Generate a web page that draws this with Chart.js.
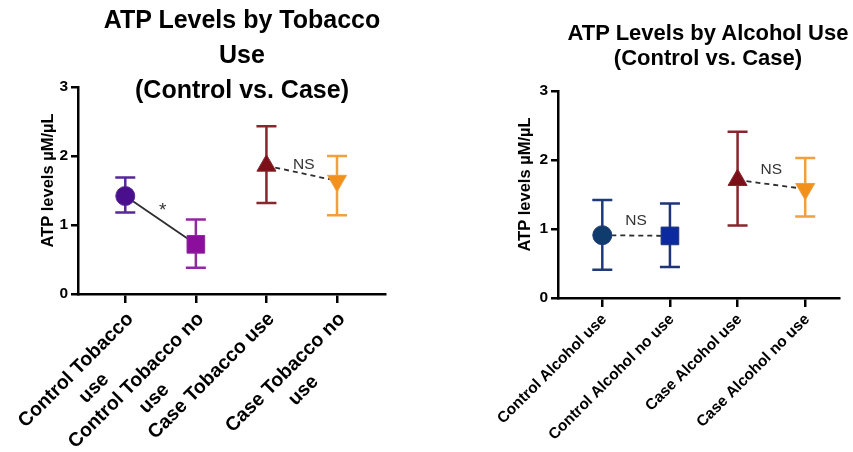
<!DOCTYPE html>
<html>
<head>
<meta charset="utf-8">
<script src="https://cdn.jsdelivr.net/npm/chart.js@4.4.0/dist/chart.umd.min.js"></script>
<style>
  body { margin: 0; background: #fff; font-family: "Liberation Sans", Arial, sans-serif; }
  #wrap { position: relative; width: 853px; height: 452px; overflow: hidden; }
  canvas { position: absolute; top: 0; }
  .title { position: absolute; width: 400px; text-align: center; font-weight: bold; color: #000; white-space: nowrap; }
  #t1 { left: 42px; top: 2px; font-size: 25px; line-height: 35px; }
  #t2 { left: 508px; top: 20px; font-size: 22px; line-height: 25px; }
</style>
</head>
<body>
<div id="wrap">
  <canvas id="tobaccoChart" width="430" height="452" style="left:0"></canvas>
  <canvas id="alcoholChart" width="423" height="452" style="left:430px"></canvas>
  <div class="title" id="t1">ATP Levels by Tobacco<br>Use<br>(Control vs. Case)</div>
  <div class="title" id="t2">ATP Levels by Alcohol Use<br>(Control vs. Case)</div>
</div>
<script>
// Data
const tobaccoLabels = [['Control Tobacco', 'use'], ['Control Tobacco no', 'use'], ['Case Tobacco use'], ['Case Tobacco no', 'use']];
const tobaccoMean = [1.42, 0.72, 1.86, 1.64];
const tobaccoUpper = [1.69, 1.08, 2.43, 2.00];
const tobaccoLower = [1.18, 0.38, 1.32, 1.14];
const tobaccoSig = ['*', 'NS'];

const alcoholLabels = ['Control Alcohol use', 'Control Alcohol no use', 'Case Alcohol use', 'Case Alcohol no use'];
const alcoholMean = [0.91, 0.90, 1.71, 1.58];
const alcoholUpper = [1.42, 1.37, 2.41, 2.03];
const alcoholLower = [0.41, 0.45, 1.05, 1.18];
const alcoholSig = ['NS', 'NS'];

const yTicks = [0, 1, 2, 3];
const yTitle = 'ATP levels µM/µL';

const FONT = '"Liberation Sans", Arial, sans-serif';
const pairs = [[0, 1], [2, 3]];
const markerStyles = ['circle', 'rect', 'triangle', 'triangle'];
const markerRotation = [0, 0, 0, 180];
const markerRadius = [9.5, 12.5, 11, 11];

function buildChart(id, cfg) {
  const datasets = pairs.map((pair, p) => ({
    data: pair.map(i => ({ x: i, y: cfg.mean[i] })),
    showLine: true,
    borderColor: '#2e2e2e',
    borderWidth: 1.8,
    borderDash: cfg.dashed[p] ? [5, 4] : [],
    pointStyle: pair.map(i => markerStyles[i]),
    pointRotation: pair.map(i => markerRotation[i]),
    pointRadius: pair.map(i => markerRadius[i]),
    pointBackgroundColor: pair.map(i => cfg.colors[i]),
    pointBorderColor: pair.map(i => cfg.barColors[i]),
    pointBorderWidth: 1,
    clip: false
  }));

  const extras = {
    id: 'extras',
    beforeDatasetsDraw(chart) {
      const { ctx, scales: { x, y } } = chart;
      ctx.save();
      ctx.lineWidth = 2.5;
      cfg.mean.forEach((m, i) => {
        const px = x.getPixelForValue(i);
        const top = y.getPixelForValue(cfg.upper[i]);
        const bot = y.getPixelForValue(cfg.lower[i]);
        ctx.strokeStyle = cfg.barColors[i];
        ctx.beginPath();
        ctx.moveTo(px, top); ctx.lineTo(px, bot);
        ctx.moveTo(px - 10, top); ctx.lineTo(px + 10, top);
        ctx.moveTo(px - 10, bot); ctx.lineTo(px + 10, bot);
        ctx.stroke();
      });
      ctx.restore();
    },
    afterDraw(chart) {
      const { ctx, chartArea: area, scales: { x, y } } = chart;
      ctx.save();
      ctx.fillStyle = '#000';
      ctx.textAlign = 'center';
      ctx.textBaseline = 'middle';

      // rotated category labels
      ctx.font = `bold ${cfg.labelSize}px ${FONT}`;
      cfg.labels.forEach((lab, i) => {
        const lines = Array.isArray(lab) ? lab : [lab];
        const w = Math.max(...lines.map(l => ctx.measureText(l).width));
        ctx.save();
        ctx.translate(x.getPixelForValue(i) + cfg.labelDx, area.bottom + cfg.labelDy);
        ctx.rotate(-Math.PI / 4);
        lines.forEach((l, k) => ctx.fillText(l, -w / 2, k * cfg.labelLine));
        ctx.restore();
      });

      // y axis title
      ctx.font = `bold 16.5px ${FONT}`;
      ctx.save();
      ctx.translate(area.left - cfg.titleDx, (area.top + area.bottom) / 2 - 10);
      ctx.rotate(-Math.PI / 2);
      ctx.fillText(yTitle, 0, 0);
      ctx.restore();

      // significance marks
      ctx.fillStyle = '#333';
      pairs.forEach(([a, b], p) => {
        const mx = (x.getPixelForValue(a) + x.getPixelForValue(b)) / 2;
        const my = (y.getPixelForValue(cfg.mean[a]) + y.getPixelForValue(cfg.mean[b])) / 2;
        ctx.font = cfg.sig[p] === '*' ? `19px ${FONT}` : `15.5px ${FONT}`;
        ctx.fillText(cfg.sig[p], mx + cfg.sigDx, my - cfg.sigDy);
      });
      ctx.restore();
    }
  };

  return new Chart(document.getElementById(id), {
    type: 'scatter',
    data: { datasets },
    options: {
      responsive: false,
      maintainAspectRatio: false,
      devicePixelRatio: 1,
      animation: false,
      events: [],
      layout: { padding: { top: cfg.padTop, right: cfg.padRight, left: 0, bottom: 0 } },
      plugins: { legend: { display: false }, tooltip: { enabled: false } },
      scales: {
        x: {
          type: 'linear',
          min: cfg.xMin,
          max: cfg.xMax,
          afterBuildTicks: s => { s.ticks = cfg.labels.map((_, i) => ({ value: i })); },
          afterFit: s => { s.height = cfg.xHeight; },
          ticks: { display: false },
          grid: { drawOnChartArea: false, color: '#000', lineWidth: 2.5, tickLength: 9 },
          border: { color: '#000', width: 2.5 }
        },
        y: {
          min: 0,
          max: 3,
          afterBuildTicks: s => { s.ticks = yTicks.map(v => ({ value: v })); },
          afterFit: s => { s.width = cfg.yWidth; },
          ticks: { color: '#000', padding: 3, font: { family: FONT, size: 15.5, weight: 'bold' } },
          grid: { drawOnChartArea: false, color: '#000', lineWidth: 2.5, tickLength: 7 },
          border: { color: '#000', width: 2.5 }
        }
      }
    },
    plugins: [extras]
  });
}

buildChart('tobaccoChart', {
  labels: tobaccoLabels,
  mean: tobaccoMean,
  upper: tobaccoUpper,
  lower: tobaccoLower,
  sig: tobaccoSig,
  dashed: [false, true],
  colors: ['#4a0f8c', '#8b0f9c', '#7c1019', '#f2901c'],
  barColors: ['#56289a', '#8e2a9f', '#86272d', '#f0a03c'],
  xMin: -0.67, xMax: 3.68,
  yWidth: 78, xHeight: 158, padTop: 87, padRight: 45,
  labelSize: 19.5, labelLine: 25.5, labelDx: 5, labelDy: 22,
  titleDx: 30, sigDx: 2, sigDy: 9
});

buildChart('alcoholChart', {
  labels: alcoholLabels,
  mean: alcoholMean,
  upper: alcoholUpper,
  lower: alcoholLower,
  sig: alcoholSig,
  dashed: [true, true],
  colors: ['#0f3b6d', '#0b2aa0', '#7c1019', '#f2901c'],
  barColors: ['#1f3a78', '#1f3478', '#86272d', '#f0a03c'],
  xMin: -0.655, xMax: 3.507,
  yWidth: 128, xHeight: 154, padTop: 91, padRight: 0,
  labelSize: 15.5, labelLine: 20, labelDx: 2, labelDy: 19,
  titleDx: 33, sigDx: 0, sigDy: 15
});
</script>
</body>
</html>
